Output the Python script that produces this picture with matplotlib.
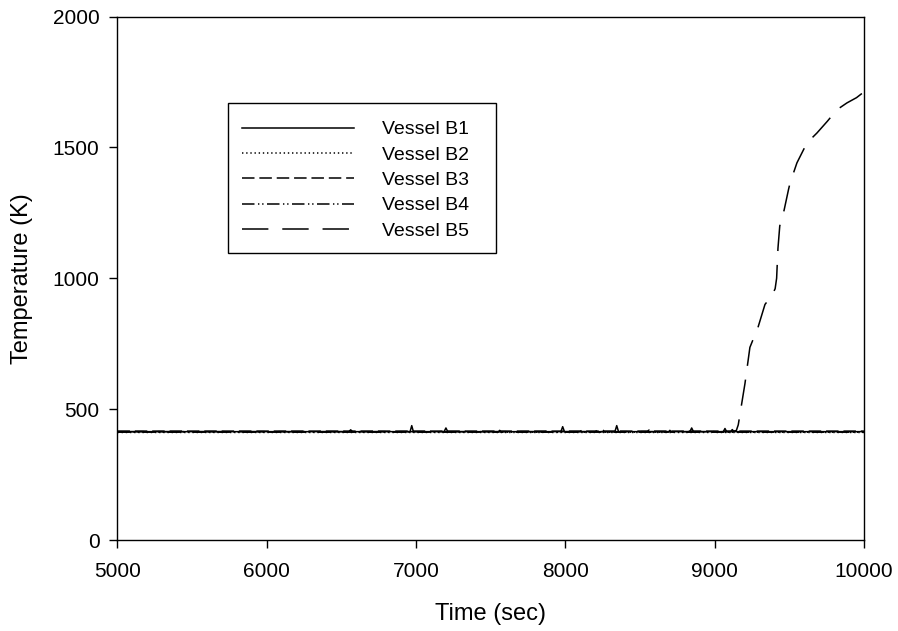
import matplotlib

matplotlib.use("Agg")
import matplotlib.pyplot as plt
from matplotlib.patches import Rectangle

plt.rcParams["font.family"] = ["Liberation Sans", "DejaVu Sans"]
plt.rcParams["lines.scale_dashes"] = False

# values (time in s, temperature in K)
b1_time = [5000, 6550, 6562, 6575, 6960, 6971, 6982, 7188, 7200, 7212, 7970, 7982, 7994,
           8332, 8344, 8356, 8834, 8846, 8858, 9058, 9069, 9080, 10000]
b1_temp = [414, 414, 421, 414, 414, 437, 414, 414, 428, 414, 414, 433, 414,
           414, 437, 414, 414, 428, 414, 414, 426, 414, 414]

b2_time = [5000, 7850, 7858, 7866, 8195, 8203, 8211, 8980, 8988, 8996, 10000]
b2_temp = [411, 411, 420, 411, 411, 421, 411, 411, 420, 411, 411]

b3_time = [5000, 8240, 8250, 8260, 8550, 8560, 8570, 9110, 9118, 9126, 10000]
b3_temp = [416, 416, 421, 416, 416, 420, 416, 416, 422, 416, 416]

b4_time = [5000, 7550, 7560, 7570, 8090, 8100, 8110, 8690, 8700, 8710, 10000]
b4_temp = [412, 412, 419, 412, 412, 420, 412, 412, 419, 412, 412]

b5_time = [5000, 9100, 9145, 9158, 9203, 9236, 9290, 9337, 9384, 9405, 9415, 9424, 9436,
           9465, 9495, 9505, 9551, 9618, 9685, 9755, 9819, 9886, 9950, 10000]
b5_temp = [414, 414, 418, 440, 598, 736, 812, 900, 935, 960, 1000, 1115, 1200,
           1260, 1340, 1364, 1441, 1517, 1555, 1600, 1644, 1670, 1690, 1712]

labels = ["Vessel B1", "Vessel B2", "Vessel B3", "Vessel B4", "Vessel B5"]

fig = plt.figure(figsize=(8.98, 6.31), dpi=100)
ax = fig.add_axes([0.1308, 0.1442, 0.8313, 0.8296])

lw = 1.1
ax.plot(b1_time, b1_temp, color="black", lw=lw, label=labels[0])
ax.plot(b2_time, b2_temp, color="black", lw=lw, dashes=(1, 2), label=labels[1])
ax.plot(b3_time, b3_temp, color="black", lw=lw, dashes=(9, 3.5), label=labels[2])
ax.plot(b4_time, b4_temp, color="black", lw=lw, dashes=(9, 2.5, 1, 2, 1, 2.5), label=labels[3])
ax.plot(b5_time, b5_temp, color="black", lw=lw, dashes=(19, 10), label=labels[4])

ax.set_xlim(5000, 10000)
ax.set_ylim(0, 2000)
ax.set_xticks([5000, 6000, 7000, 8000, 9000, 10000])
ax.set_yticks([0, 500, 1000, 1500, 2000])
ax.tick_params(direction="out", length=6, width=1, labelsize=15, top=False, right=False)
ax.tick_params(axis="x", pad=10)
ax.tick_params(axis="y", pad=7)
ax.set_xlabel("Time (sec)", fontsize=17, labelpad=16)
ax.set_ylabel("Temperature (K)", fontsize=17, labelpad=14)
for s in ax.spines.values():
    s.set_linewidth(1)

leg = ax.legend(loc="upper left", bbox_to_anchor=(0.1668, 0.801), frameon=False,
                fontsize=14, handlelength=5.77, handletextpad=1.44, labelspacing=0.4,
                borderpad=0, borderaxespad=0)
ax.add_patch(Rectangle((0.148, 0.5482), 0.359, 0.2865, transform=ax.transAxes,
                       fill=False, edgecolor="black", lw=1))

fig.savefig("out.png", dpi=100)
